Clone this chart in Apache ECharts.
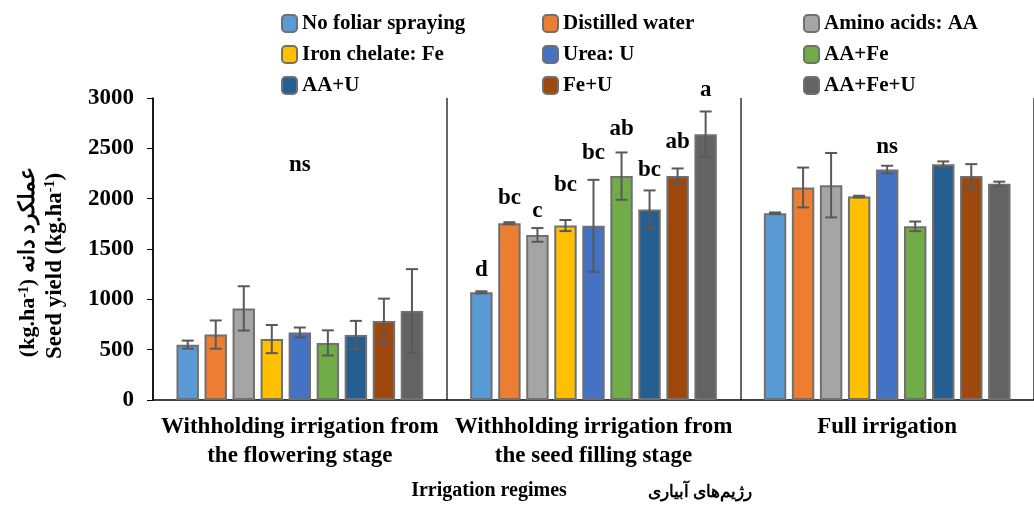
<!DOCTYPE html>
<html>
<head>
<meta charset="utf-8">
<script src="https://cdn.jsdelivr.net/npm/echarts@6/dist/echarts.min.js"></script>
<style>
html, body { margin: 0; padding: 0; background: #fff; }
#chart { width: 1034px; height: 506px; }
</style>
</head>
<body>
<div id="chart"></div>
<script>
// categories on the x axis
const regimes = [
  'Withholding irrigation from\nthe flowering stage',
  'Withholding irrigation from\nthe seed filling stage',
  'Full irrigation'
]
const treatments = [
  'No foliar spraying', 'Distilled water', 'Amino acids: AA',
  'Iron chelate: Fe', 'Urea: U', 'AA+Fe',
  'AA+U', 'Fe+U', 'AA+Fe+U'
]
const colors = ['#5B9BD5', '#ED7D31', '#A5A5A5', '#FFC000', '#4472C4', '#70AD47', '#255E91', '#9E480E', '#636363']

// seed yield (kg/ha), one array per treatment, values for the 3 regimes
const noFoliar = [550, 1070, 1855]
const distilled = [650, 1756, 2111]
const aminoAcids = [910, 1640, 2134]
const ironChelate = [605, 1733, 2021]
const urea = [670, 1730, 2289]
const aaFe = [567, 2224, 1725]
const aaU = [646, 1892, 2342]
const feU = [785, 2224, 2224]
const aaFeU = [885, 2641, 2147]
const yieldMean = [noFoliar, distilled, aminoAcids, ironChelate, urea, aaFe, aaU, feU, aaFeU]

// error bar half lengths
const errNoFoliar = [40, 10, 8]
const errDistilled = [140, 10, 198]
const errAmino = [220, 68, 320]
const errIron = [140, 55, 8]
const errUrea = [50, 457, 38]
const errAaFe = [125, 235, 48]
const errAaU = [140, 190, 28]
const errFeU = [222, 76, 119]
const errAaFeU = [415, 225, 22]
const yieldErr = [errNoFoliar, errDistilled, errAmino, errIron, errUrea, errAaFe, errAaU, errFeU, errAaFeU]

// significance letters per regime and the height they sit at
const sigText = [
  ['', '', '', '', 'ns', '', '', '', ''],
  ['d', 'bc', 'c', 'bc', 'bc', 'ab', 'bc', 'ab', 'a'],
  ['', '', '', '', 'ns', '', '', '', '']
]
const sigY = [
  [0, 0, 0, 0, 2336, 0, 0, 0, 0],
  [1292, 2005, 1872, 2137, 2455, 2694, 2286, 2565, 3082],
  [0, 0, 0, 0, 2515, 0, 0, 0, 0]
]

const yTicks = { min: 0, max: 3000, interval: 500 }

const FONT = '"Liberation Serif", "Times New Roman", serif'
const CAT_GAP = 0.16
const BAR_GAP = 0.25
const N = treatments.length

const chart = echarts.init(document.getElementById('chart'))

const errData = []
for (let r = 0; r < regimes.length; r++) {
  for (let i = 0; i < N; i++) {
    const m = yieldMean[i][r]
    const e = yieldErr[i][r]
    errData.push([r, i, m - e, m + e, sigY[r][i]])
  }
}

function renderErr (params, api) {
  const r = api.value(0)
  const i = api.value(1)
  const band = api.size([1, 0])[0]
  const bw = band * (1 - CAT_GAP) / (N + (N - 1) * BAR_GAP)
  const total = bw * (N + (N - 1) * BAR_GAP)
  const cx = api.coord([r, 0])[0] - total / 2 + i * bw * (1 + BAR_GAP) + bw / 2
  const yLo = api.coord([r, api.value(2)])[1]
  const yHi = api.coord([r, api.value(3)])[1]
  const cap = 6
  const ls = { stroke: '#595959', lineWidth: 2 }
  const children = [
    { type: 'line', shape: { x1: cx, y1: yLo, x2: cx, y2: yHi }, style: ls },
    { type: 'line', shape: { x1: cx - cap, y1: yHi, x2: cx + cap, y2: yHi }, style: ls },
    { type: 'line', shape: { x1: cx - cap, y1: yLo, x2: cx + cap, y2: yLo }, style: ls }
  ]
  const txt = sigText[r][i]
  if (txt) {
    const ty = api.coord([r, api.value(4)])[1]
    children.push({
      type: 'text',
      x: cx,
      y: ty,
      style: {
        text: txt,
        fill: '#000',
        fontFamily: FONT,
        fontWeight: 'bold',
        fontSize: 23,
        textAlign: 'center',
        textVerticalAlign: 'middle'
      }
    })
  }
  return { type: 'group', children }
}

const barSeries = treatments.map((name, i) => ({
  type: 'bar',
  name: name,
  data: yieldMean[i],
  barGap: BAR_GAP * 100 + '%',
  barCategoryGap: CAT_GAP * 100 + '%',
  itemStyle: { color: colors[i], borderColor: '#707070', borderWidth: 2 }
}))

const legendLeft = [276, 537, 798]

const option = {
  animation: false,
  color: colors,
  grid: { left: 153, right: -7, top: 98, bottom: 106 },
  legend: legendLeft.map((left, c) => ({
    orient: 'vertical',
    left: left,
    top: 8,
    itemGap: 10,
    itemWidth: 15,
    itemHeight: 17,
    selectedMode: false,
    data: treatments.filter((t, i) => i % 3 === c),
    textStyle: { color: '#000', fontFamily: FONT, fontWeight: 'bold', fontSize: 21 }
  })),
  xAxis: {
    type: 'category',
    data: regimes,
    axisLine: { lineStyle: { color: '#000', width: 1.5 } },
    axisTick: { show: false },
    splitLine: { show: true, lineStyle: { color: '#333', width: 1.5 } },
    axisLabel: {
      interval: 0,
      color: '#000',
      fontFamily: FONT,
      fontWeight: 'bold',
      fontSize: 23,
      lineHeight: 29,
      margin: 13
    }
  },
  yAxis: {
    type: 'value',
    min: yTicks.min,
    max: yTicks.max,
    interval: yTicks.interval,
    axisLine: { show: true, lineStyle: { color: '#000', width: 1.5 } },
    axisTick: { show: true, length: 6, lineStyle: { color: '#000' } },
    splitLine: { show: false },
    axisLabel: {
      color: '#000',
      fontFamily: FONT,
      fontWeight: 'bold',
      fontSize: 23,
      margin: 19,
      formatter: v => String(v)
    }
  },
  graphic: [
    {
      type: 'text',
      x: 55,
      y: 266,
      rotation: Math.PI / 2,
      style: {
        text: 'Seed yield (kg.ha{sup|-1})',
        fill: '#000',
        fontFamily: FONT,
        fontWeight: 'bold',
        fontSize: 23,
        textAlign: 'center',
        textVerticalAlign: 'middle',
        rich: { sup: { fontFamily: FONT, fontWeight: 'bold', fontSize: 14, verticalAlign: 'top' } }
      }
    },
    {
      type: 'text',
      x: 28,
      y: 262,
      rotation: Math.PI / 2,
      style: {
        text: '(kg.ha{sup|-1}) عملکرد دانه',
        fill: '#000',
        fontFamily: FONT,
        fontWeight: 'bold',
        fontSize: 22,
        textAlign: 'center',
        textVerticalAlign: 'middle',
        rich: { sup: { fontFamily: FONT, fontWeight: 'bold', fontSize: 14, verticalAlign: 'top' } }
      }
    },
    {
      type: 'text',
      x: 489,
      y: 491,
      style: {
        text: 'Irrigation regimes',
        fill: '#000',
        fontFamily: FONT,
        fontWeight: 'bold',
        fontSize: 20,
        textAlign: 'center',
        textVerticalAlign: 'middle'
      }
    },
    {
      type: 'text',
      x: 700,
      y: 493,
      style: {
        text: 'رژیم‌های آبیاری',
        fill: '#000',
        fontFamily: FONT,
        fontWeight: 'bold',
        fontSize: 17,
        textAlign: 'center',
        textVerticalAlign: 'middle'
      }
    }
  ],
  series: barSeries.concat([{
    type: 'custom',
    name: 'error',
    renderItem: renderErr,
    data: errData,
    z: 10,
    silent: true
  }])
}

chart.setOption(option)
</script>
</body>
</html>
